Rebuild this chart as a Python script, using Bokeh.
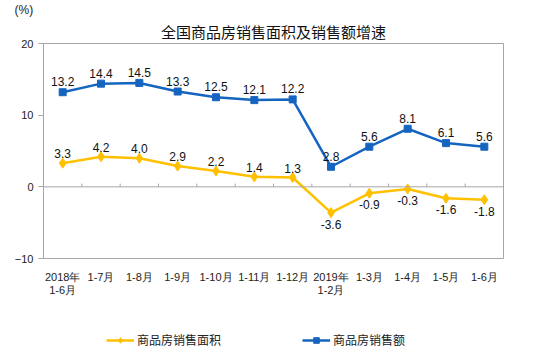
from bokeh.plotting import figure
from bokeh.layouts import column
from bokeh.models import (Range1d, FixedTicker, Span, Title, Legend, LegendItem,
                          ColumnDataSource)
from bokeh.core.properties import value
from bokeh.embed import file_html
from bokeh.resources import INLINE

categories = ["2018年\n1-6月", "1-7月", "1-8月", "1-9月", "1-10月", "1-11月",
              "1-12月", "2019年\n1-2月", "1-3月", "1-4月", "1-5月", "1-6月"]
area_growth = [3.3, 4.2, 4.0, 2.9, 2.2, 1.4, 1.3, -3.6, -0.9, -0.3, -1.6, -1.8]
amount_growth = [13.2, 14.4, 14.5, 13.3, 12.5, 12.1, 12.2, 2.8, 5.6, 8.1, 6.1, 5.6]
y_ticks = [-10, 0, 10, 20]
title_text = "全国商品房销售面积及销售额增速"
unit_text = "(%)"
area_name = "商品房销售面积"
amount_name = "商品房销售额"

YELLOW = "#FFC000"
BLUE = "#1565C0"
GRAY = "#A6A6A6"
NUM_FONT = "Liberation Sans"
CJK_FONT = "Noto Sans CJK SC"

xs = list(range(len(categories)))

p = figure(frame_width=460, frame_height=215, output_backend="svg", toolbar_location=None,
           x_range=Range1d(-0.5, len(categories) - 0.5), y_range=Range1d(-10, 20),
           min_border_left=43, min_border_right=32, min_border_top=42,
           min_border_bottom=55, background_fill_color="white",
           border_fill_color="white", outline_line_color=GRAY)
p.grid.visible = False

# outer title: unit
p.title.text = unit_text
p.title.align = "left"
p.title.offset = -29
p.title.standoff = 0
p.title.text_font = NUM_FONT
p.title.text_font_size = "12px"
p.title.text_font_style = "normal"
p.title.text_color = "#222222"

# inner title: chart title
main_title = Title(text=title_text, align="center", standoff=4,
                   text_font=CJK_FONT, text_font_size="15px",
                   text_font_style="normal", text_color="#111111",
                   text_line_height=0.7)
p.add_layout(main_title, "above")

# x axis
p.xaxis.ticker = FixedTicker(ticks=xs)
p.xaxis.major_label_overrides = {i: c for i, c in enumerate(categories)}
p.xaxis.axis_line_color = None
p.xaxis.major_tick_line_color = None
p.xaxis.minor_tick_line_color = None
p.xaxis.major_label_text_font = NUM_FONT
p.xaxis.major_label_text_font_size = "11px"
p.xaxis.major_label_text_line_height = 1.1
p.xaxis.major_label_text_color = "#222222"
p.xaxis.major_label_standoff = 6

# y axis
p.yaxis.ticker = FixedTicker(ticks=y_ticks)
p.yaxis.axis_line_color = GRAY
p.yaxis.major_tick_line_color = GRAY
p.yaxis.major_tick_in = 0
p.yaxis.major_tick_out = 5
p.yaxis.minor_tick_line_color = None
p.yaxis.major_label_text_font = NUM_FONT
p.yaxis.major_label_text_font_size = "11px"
p.yaxis.major_label_text_color = "#222222"
p.yaxis.major_label_standoff = 5

# zero line with category-boundary ticks
p.add_layout(Span(location=0, dimension="width", line_color=GRAY, line_width=1))
bounds = [i + 0.5 for i in xs[:-1]]
p.segment(x0=bounds, x1=bounds, y0=[0] * len(bounds), y1=[0.45] * len(bounds),
          line_color=GRAY, line_width=1)

# series
area_line = p.line(xs, area_growth, line_color=YELLOW, line_width=2.5)
area_pts = p.scatter(xs, area_growth, marker="diamond", size=10,
                     fill_color=YELLOW, line_color=YELLOW)
amount_line = p.line(xs, amount_growth, line_color=BLUE, line_width=2.5)
amount_pts = p.scatter(xs, amount_growth, marker="square", size=7,
                       fill_color=BLUE, line_color=BLUE)

# data labels
amt_src = ColumnDataSource(dict(x=xs, y=amount_growth,
                                t=[f"{v:.1f}" for v in amount_growth]))
p.text(x="x", y="y", text="t", source=amt_src, text_align="center",
       text_baseline="bottom", y_offset=-6, text_font=value(NUM_FONT),
       text_font_size="12px", text_color="#111111")

up = [i for i, v in enumerate(area_growth) if v >= 0]
down = [i for i, v in enumerate(area_growth) if v < 0]
up_src = ColumnDataSource(dict(x=up, y=[area_growth[i] for i in up],
                               t=[f"{area_growth[i]:.1f}" for i in up]))
down_src = ColumnDataSource(dict(x=down, y=[area_growth[i] for i in down],
                                 t=[f"{area_growth[i]:.1f}" for i in down]))
p.text(x="x", y="y", text="t", source=up_src, text_align="center",
       text_baseline="bottom", y_offset=-5, text_font=value(NUM_FONT),
       text_font_size="12px", text_color="#111111")
p.text(x="x", y="y", text="t", source=down_src, text_align="center",
       text_baseline="top", y_offset=7, text_font=value(NUM_FONT),
       text_font_size="12px", text_color="#111111")

# legend strip below the chart (its frame is aligned with the chart's frame);
# the series are drawn again out of view only to give the legend its glyphs
lg = figure(width=535, height=42, output_backend="svg", toolbar_location=None,
            x_range=Range1d(-100, -99), y_range=Range1d(-100, -99),
            x_axis_location=None, y_axis_location=None,
            min_border=0, min_border_left=0, min_border_right=0,
            min_border_top=0, min_border_bottom=0,
            outline_line_color=None, background_fill_color="white",
            border_fill_color="white")
lg.grid.visible = False
lg_area_line = lg.line(xs, area_growth, line_color=YELLOW, line_width=2.5)
lg_area_pts = lg.scatter(xs, area_growth, marker="diamond", size=8,
                         fill_color=YELLOW, line_color=YELLOW)
lg_amount_line = lg.line(xs, amount_growth, line_color=BLUE, line_width=2.5)
lg_amount_pts = lg.scatter(xs, amount_growth, marker="square", size=6,
                           fill_color=BLUE, line_color=BLUE)
legend = Legend(items=[LegendItem(label=area_name, renderers=[lg_area_line, lg_area_pts]),
                       LegendItem(label=amount_name, renderers=[lg_amount_line, lg_amount_pts])],
                orientation="horizontal", location=(63, 7),
                border_line_color=None, background_fill_alpha=0,
                label_text_font=CJK_FONT, label_text_font_size="12px",
                label_text_color="#222222", glyph_width=28, glyph_height=14,
                label_height=14, label_standoff=3, spacing=81, padding=0, margin=0)
lg.add_layout(legend, "center")

layout = column(p, lg, spacing=0)
open("out.html", "w").write(file_html(layout, INLINE))
